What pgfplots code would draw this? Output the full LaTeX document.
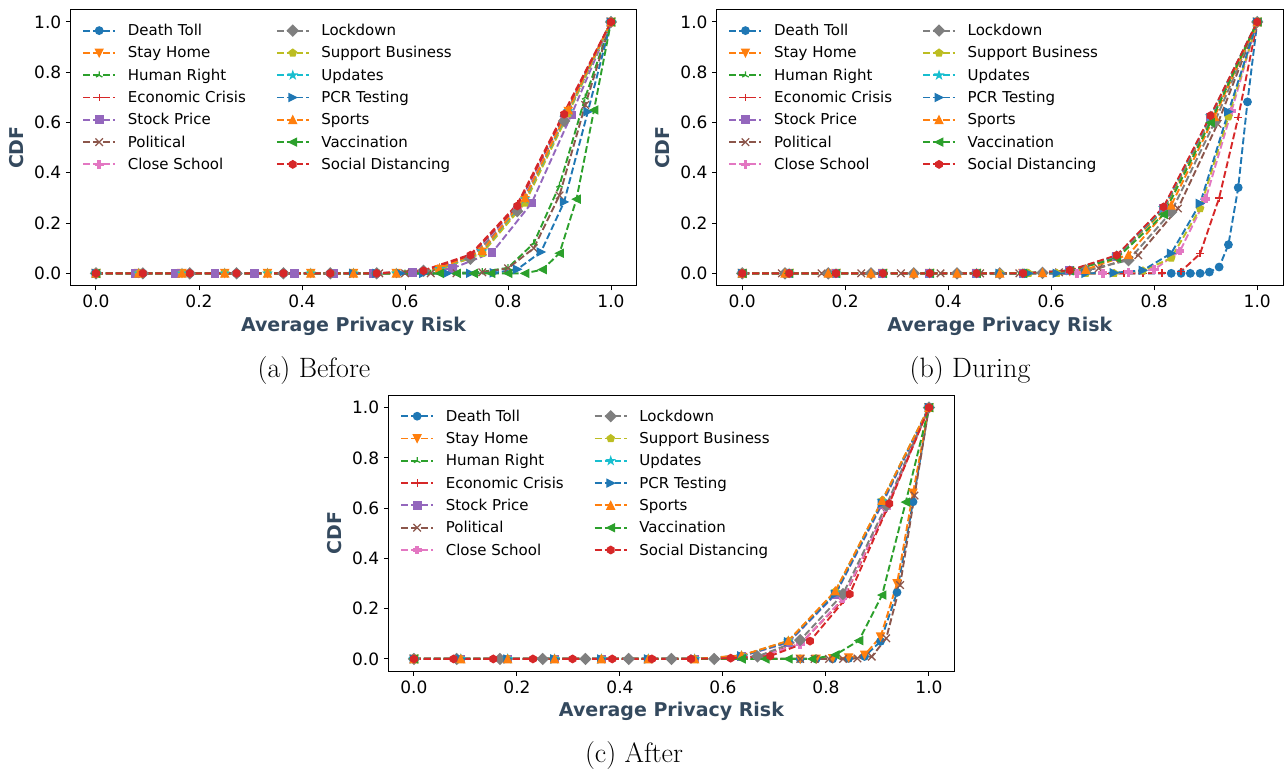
\documentclass[border=0pt]{standalone}
\usepackage{fontspec}
\setsansfont{DejaVu Sans}
\usepackage{pgfplots}
\pgfplotsset{compat=1.18}
\usetikzlibrary{plotmarks}

\definecolor{c0}{HTML}{1F77B4}
\definecolor{c1}{HTML}{FF7F0E}
\definecolor{c2}{HTML}{2CA02C}
\definecolor{c3}{HTML}{D62728}
\definecolor{c4}{HTML}{9467BD}
\definecolor{c5}{HTML}{8C564B}
\definecolor{c6}{HTML}{E377C2}
\definecolor{c7}{HTML}{7F7F7F}
\definecolor{c8}{HTML}{BCBD22}
\definecolor{c9}{HTML}{17BECF}
\definecolor{labcol}{HTML}{34495E}

% matplotlib-like markers
\pgfdeclareplotmark{mtri}{%
  \pgfpathmoveto{\pgfqpoint{0pt}{\pgfplotmarksize}}%
  \pgfpathlineto{\pgfqpoint{-\pgfplotmarksize}{-\pgfplotmarksize}}%
  \pgfpathlineto{\pgfqpoint{\pgfplotmarksize}{-\pgfplotmarksize}}%
  \pgfpathclose\pgfusepathqfillstroke}
\pgfdeclareplotmark{tritwo}{%
  \pgfpathmoveto{\pgfqpoint{0pt}{0pt}}\pgfpathlineto{\pgfqpoint{0pt}{\pgfplotmarksize}}%
  \pgfpathmoveto{\pgfqpoint{0pt}{0pt}}\pgfpathlineto{\pgfqpoint{-0.866\pgfplotmarksize}{-0.5\pgfplotmarksize}}%
  \pgfpathmoveto{\pgfqpoint{0pt}{0pt}}\pgfpathlineto{\pgfqpoint{0.866\pgfplotmarksize}{-0.5\pgfplotmarksize}}%
  \pgfusepathqstroke}
\pgfdeclareplotmark{Pfill}{%
  \pgfpathmoveto{\pgfqpoint{-0.333\pgfplotmarksize}{-\pgfplotmarksize}}%
  \pgfpathlineto{\pgfqpoint{0.333\pgfplotmarksize}{-\pgfplotmarksize}}%
  \pgfpathlineto{\pgfqpoint{0.333\pgfplotmarksize}{-0.333\pgfplotmarksize}}%
  \pgfpathlineto{\pgfqpoint{\pgfplotmarksize}{-0.333\pgfplotmarksize}}%
  \pgfpathlineto{\pgfqpoint{\pgfplotmarksize}{0.333\pgfplotmarksize}}%
  \pgfpathlineto{\pgfqpoint{0.333\pgfplotmarksize}{0.333\pgfplotmarksize}}%
  \pgfpathlineto{\pgfqpoint{0.333\pgfplotmarksize}{\pgfplotmarksize}}%
  \pgfpathlineto{\pgfqpoint{-0.333\pgfplotmarksize}{\pgfplotmarksize}}%
  \pgfpathlineto{\pgfqpoint{-0.333\pgfplotmarksize}{0.333\pgfplotmarksize}}%
  \pgfpathlineto{\pgfqpoint{-\pgfplotmarksize}{0.333\pgfplotmarksize}}%
  \pgfpathlineto{\pgfqpoint{-\pgfplotmarksize}{-0.333\pgfplotmarksize}}%
  \pgfpathlineto{\pgfqpoint{-0.333\pgfplotmarksize}{-0.333\pgfplotmarksize}}%
  \pgfpathclose\pgfusepathqfillstroke}
\pgfdeclareplotmark{Dmd}{%
  \pgfpathmoveto{\pgfqpoint{0pt}{1.414\pgfplotmarksize}}%
  \pgfpathlineto{\pgfqpoint{1.414\pgfplotmarksize}{0pt}}%
  \pgfpathlineto{\pgfqpoint{0pt}{-1.414\pgfplotmarksize}}%
  \pgfpathlineto{\pgfqpoint{-1.414\pgfplotmarksize}{0pt}}%
  \pgfpathclose\pgfusepathqfillstroke}
\pgfdeclareplotmark{fstar}{%
  \pgfpathmoveto{\pgfpointpolar{90}{\pgfplotmarksize}}%
  \pgfpathlineto{\pgfpointpolar{126}{0.382\pgfplotmarksize}}%
  \pgfpathlineto{\pgfpointpolar{162}{\pgfplotmarksize}}%
  \pgfpathlineto{\pgfpointpolar{198}{0.382\pgfplotmarksize}}%
  \pgfpathlineto{\pgfpointpolar{234}{\pgfplotmarksize}}%
  \pgfpathlineto{\pgfpointpolar{270}{0.382\pgfplotmarksize}}%
  \pgfpathlineto{\pgfpointpolar{306}{\pgfplotmarksize}}%
  \pgfpathlineto{\pgfpointpolar{342}{0.382\pgfplotmarksize}}%
  \pgfpathlineto{\pgfpointpolar{18}{\pgfplotmarksize}}%
  \pgfpathlineto{\pgfpointpolar{54}{0.382\pgfplotmarksize}}%
  \pgfpathclose\pgfusepathqfillstroke}
\pgfdeclareplotmark{hexa}{%
  \pgfpathmoveto{\pgfpointpolar{90}{\pgfplotmarksize}}%
  \pgfpathlineto{\pgfpointpolar{150}{\pgfplotmarksize}}%
  \pgfpathlineto{\pgfpointpolar{210}{\pgfplotmarksize}}%
  \pgfpathlineto{\pgfpointpolar{270}{\pgfplotmarksize}}%
  \pgfpathlineto{\pgfpointpolar{330}{\pgfplotmarksize}}%
  \pgfpathlineto{\pgfpointpolar{30}{\pgfplotmarksize}}%
  \pgfpathclose\pgfusepathqfillstroke}

\tikzset{mo/.style={solid, line width=1.25pt}}

\pgfplotscreateplotcyclelist{mpl}{%
c0,mark=*,mark options={mo}\\%
c1,mark=mtri,mark options={mo,rotate=180}\\%
c2,mark=tritwo,mark options={mo}\\%
c3,mark=+,mark options={mo}\\%
c4,mark=square*,mark options={mo}\\%
c5,mark=x,mark options={mo,scale=1.414}\\%
c6,mark=Pfill,mark options={mo}\\%
c7,mark=Dmd,mark options={mo}\\%
c8,mark=pentagon*,mark options={mo}\\%
c9,mark=fstar,mark options={mo}\\%
c0,mark=mtri,mark options={mo,rotate=-90}\\%
c1,mark=mtri,mark options={mo}\\%
c2,mark=mtri,mark options={mo,rotate=90}\\%
c3,mark=hexa,mark options={mo}\\%
}

\pgfplotsset{
  cdf/.style={
    scale only axis, width=566.5pt, height=276.5pt,
    xmin=-0.05, xmax=1.05, ymin=-0.05, ymax=1.05,
    xtick={0,0.2,0.4,0.6,0.8,1}, ytick={0,0.2,0.4,0.6,0.8,1},
    tick align=outside, tick pos=left, major tick length=4.4pt,
    tick style={line width=1pt, black},
    axis line style={line width=1pt},
    ticklabel style={font=\sffamily\fontsize{17}{20}\selectfont, inner sep=4.4pt},
    /pgf/number format/fixed, /pgf/number format/fixed zerofill,
    /pgf/number format/precision=1, /pgf/number format/assume math mode=true,
    xlabel={Average Privacy Risk}, ylabel={CDF},
    every axis x label/.style={at={(axis description cs:0.5,0)}, anchor=center, yshift=-40pt,
      font=\sffamily\bfseries\fontsize{19}{23}\selectfont, text=labcol},
    every axis y label/.style={at={(axis description cs:0,0.5)}, xshift=-54pt, anchor=center, rotate=90,
      font=\sffamily\bfseries\fontsize{19}{23}\selectfont, text=labcol},
    cycle list name=mpl,
    every axis plot post/.append style={line width=1.9pt, dash pattern=on 6.9pt off 3pt, mark size=3.75pt},
    legend columns=7, transpose legend, legend cell align=left,
    legend image code/.code={\draw[mark repeat=2,mark phase=2] plot coordinates {(0pt,0pt)(16pt,0pt)(32pt,0pt)};},
    legend style={draw=none, fill=none, inner sep=0pt, outer sep=0pt,
      at={(0,1)}, anchor=north west, xshift=12pt, yshift=-14.7pt,
      font=\sffamily\fontsize{15}{18}\selectfont, row sep=9.3pt,
      nodes={inner sep=0pt, text height=11.5pt, text depth=1.5pt},
      /tikz/every odd column/.append style={column sep=11.7pt},
      /tikz/every even column/.append style={column sep=30pt}},
    legend entries={Death Toll,Stay Home,Human Right,Economic Crisis,Stock Price,Political,Close School,
      Lockdown,Support Business,Updates,PCR Testing,Sports,Vaccination,Social Distancing},
  }
}

\begin{document}
\begin{tikzpicture}
\path[use as bounding box] (0pt,0pt) rectangle (1287pt,-770pt);

% (a) Before
\begin{axis}[cdf, at={(70.25pt,-285.9pt)}, anchor=south west]
\addplot coordinates {(0,0)(.091,0)(.182,0)(.273,0)(.364,0)(.455,0)(.545,0)(.636,.008)(.727,.066)(.818,.262)(.909,.625)(1,1)};
\addplot coordinates {(0,0)(.083,0)(.167,0)(.25,0)(.333,0)(.417,0)(.5,0)(.583,0)(.667,.015)(.75,.085)(.833,.29)(.917,.645)(1,1)};
\addplot coordinates {(0,0)(.55,0)(.6,0)(.65,0)(.7,.002)(.75,.006)(.8,.022)(.85,.12)(.9,.35)(.95,.70)(1,1)};
\addplot coordinates {(0,0)(.091,0)(.182,0)(.273,0)(.364,0)(.455,0)(.545,0)(.636,.012)(.727,.075)(.818,.275)(.909,.64)(1,1)};
\addplot coordinates {(0,0)(.077,0)(.154,0)(.231,0)(.308,0)(.385,0)(.462,0)(.538,0)(.615,.003)(.692,.02)(.769,.082)(.846,.28)(.923,.63)(1,1)};
\addplot coordinates {(0,0)(.55,0)(.6,0)(.65,0)(.7,0)(.75,.004)(.8,.02)(.85,.10)(.9,.31)(.95,.67)(1,1)};
\addplot coordinates {(0,0)(.091,0)(.182,0)(.273,0)(.364,0)(.455,0)(.545,0)(.636,.008)(.727,.06)(.818,.255)(.909,.615)(1,1)};
\addplot coordinates {(0,0)(.091,0)(.182,0)(.273,0)(.364,0)(.455,0)(.545,0)(.636,.01)(.727,.058)(.818,.247)(.909,.606)(1,1)};
\addplot coordinates {(0,0)(.083,0)(.167,0)(.25,0)(.333,0)(.417,0)(.5,0)(.583,0)(.667,.015)(.75,.08)(.833,.28)(.917,.635)(1,1)};
\addplot coordinates {(0,0)(.083,0)(.167,0)(.25,0)(.333,0)(.417,0)(.5,0)(.583,0)(.667,.018)(.75,.088)(.833,.295)(.917,.645)(1,1)};
\addplot coordinates {(0,0)(.5,0)(.545,0)(.591,0)(.636,0)(.682,0)(.727,0)(.773,.002)(.818,.016)(.864,.085)(.909,.284)(.955,.643)(1,1)};
\addplot coordinates {(0,0)(.083,0)(.167,0)(.25,0)(.333,0)(.417,0)(.5,0)(.583,0)(.667,.02)(.75,.09)(.833,.30)(.917,.65)(1,1)};
\addplot coordinates {(0,0)(.667,0)(.7,0)(.733,0)(.767,0)(.8,0)(.833,0)(.867,.015)(.9,.08)(.933,.295)(.967,.65)(1,1)};
\addplot coordinates {(0,0)(.091,0)(.182,0)(.273,0)(.364,0)(.455,0)(.545,0)(.636,.01)(.727,.072)(.818,.268)(.909,.633)(1,1)};
\end{axis}

% (b) During
\begin{axis}[cdf, at={(716.5pt,-285.9pt)}, anchor=south west]
\addplot coordinates {(0,0)(.833,0)(.852,0)(.870,0)(.889,0)(.907,.005)(.926,.025)(.944,.114)(.963,.341)(.981,.682)(1,1)};
\addplot coordinates {(0,0)(.091,0)(.182,0)(.273,0)(.364,0)(.455,0)(.545,0)(.636,.008)(.727,.065)(.818,.25)(.909,.61)(1,1)};
\addplot coordinates {(0,0)(.091,0)(.182,0)(.273,0)(.364,0)(.455,0)(.545,0)(.636,.01)(.727,.07)(.818,.255)(.909,.62)(1,1)};
\addplot coordinates {(0,0)(.667,0)(.704,0)(.741,0)(.778,0)(.815,.001)(.852,.008)(.889,.078)(.926,.30)(.963,.62)(1,1)};
\addplot coordinates {(0,0)(.091,0)(.182,0)(.273,0)(.364,0)(.455,0)(.545,0)(.636,.01)(.727,.068)(.818,.26)(.909,.62)(1,1)};
\addplot coordinates {(0,0)(.077,0)(.154,0)(.231,0)(.308,0)(.385,0)(.462,0)(.538,0)(.615,.004)(.692,.02)(.769,.072)(.846,.258)(.923,.595)(1,1)};
\addplot coordinates {(0,0)(.65,0)(.7,0)(.75,.004)(.8,.015)(.85,.089)(.9,.297)(.95,.645)(1,1)};
\addplot coordinates {(0,0)(.083,0)(.167,0)(.25,0)(.333,0)(.417,0)(.5,0)(.583,.002)(.667,.012)(.75,.052)(.833,.244)(.917,.60)(1,1)};
\addplot coordinates {(0,0)(.5,0)(.556,0)(.611,0)(.667,0)(.722,0)(.778,.01)(.833,.061)(.889,.258)(.944,.623)(1,1)};
\addplot coordinates {(0,0)(.091,0)(.182,0)(.273,0)(.364,0)(.455,0)(.545,0)(.636,.01)(.727,.07)(.818,.26)(.909,.625)(1,1)};
\addplot coordinates {(0,0)(.5,0)(.556,0)(.611,0)(.667,0)(.722,.002)(.778,.012)(.833,.08)(.889,.278)(.944,.643)(1,1)};
\addplot coordinates {(0,0)(.083,0)(.167,0)(.25,0)(.333,0)(.417,0)(.5,0)(.583,.002)(.667,.015)(.75,.074)(.833,.271)(.917,.623)(1,1)};
\addplot coordinates {(0,0)(.091,0)(.182,0)(.273,0)(.364,0)(.455,0)(.545,0)(.636,.01)(.727,.06)(.818,.234)(.909,.60)(1,1)};
\addplot coordinates {(0,0)(.091,0)(.182,0)(.273,0)(.364,0)(.455,0)(.545,0)(.636,.012)(.727,.072)(.818,.264)(.909,.627)(1,1)};
\end{axis}

% (c) After
\begin{axis}[cdf, at={(388.2pt,-671.5pt)}, anchor=south west]
\addplot coordinates {(0,0)(.75,0)(.781,0)(.813,0)(.844,.002)(.875,.01)(.906,.07)(.938,.265)(.969,.625)(1,1)};
\addplot coordinates {(0,0)(.75,0)(.781,0)(.813,.002)(.844,.005)(.875,.016)(.906,.088)(.938,.30)(.969,.66)(1,1)};
\addplot coordinates {(0,0)(.091,0)(.182,0)(.273,0)(.364,0)(.455,0)(.545,0)(.636,.012)(.727,.069)(.818,.261)(.909,.624)(1,1)};
\addplot coordinates {(0,0)(.083,0)(.167,0)(.25,0)(.333,0)(.417,0)(.5,0)(.583,.002)(.667,.01)(.75,.06)(.833,.235)(.917,.595)(1,1)};
\addplot coordinates {(0,0)(.091,0)(.182,0)(.273,0)(.364,0)(.455,0)(.545,0)(.636,.01)(.727,.065)(.818,.255)(.909,.615)(1,1)};
\addplot coordinates {(0,0)(.75,0)(.778,0)(.806,0)(.833,0)(.861,.002)(.889,.009)(.917,.082)(.944,.294)(.972,.65)(1,1)};
\addplot coordinates {(0,0)(.083,0)(.167,0)(.25,0)(.333,0)(.417,0)(.5,0)(.583,0)(.667,.008)(.75,.058)(.833,.24)(.917,.60)(1,1)};
\addplot coordinates {(0,0)(.083,0)(.167,0)(.25,0)(.333,0)(.417,0)(.5,0)(.583,0)(.667,.01)(.75,.075)(.833,.258)(.917,.61)(1,1)};
\addplot coordinates {(0,0)(.091,0)(.182,0)(.273,0)(.364,0)(.455,0)(.545,0)(.636,.013)(.727,.072)(.818,.268)(.909,.63)(1,1)};
\addplot coordinates {(0,0)(.091,0)(.182,0)(.273,0)(.364,0)(.455,0)(.545,0)(.636,.012)(.727,.07)(.818,.265)(.909,.628)(1,1)};
\addplot coordinates {(0,0)(.091,0)(.182,0)(.273,0)(.364,0)(.455,0)(.545,0)(.636,.012)(.727,.068)(.818,.258)(.909,.62)(1,1)};
\addplot coordinates {(0,0)(.091,0)(.182,0)(.273,0)(.364,0)(.455,0)(.545,0)(.636,.014)(.727,.072)(.818,.27)(.909,.63)(1,1)};
\addplot coordinates {(0,0)(.636,0)(.682,0)(.727,0)(.773,0)(.818,.016)(.864,.073)(.909,.254)(.955,.624)(1,1)};
\addplot coordinates {(0,0)(.077,0)(.154,0)(.231,0)(.308,0)(.385,0)(.462,0)(.538,0)(.615,.003)(.692,.012)(.769,.071)(.846,.258)(.923,.618)(1,1)};
\end{axis}

\node[font=\rmfamily\fontsize{28}{33}\selectfont, anchor=base] at (314pt,-377pt) {(a) Before};
\node[font=\rmfamily\fontsize{28}{33}\selectfont, anchor=base] at (970pt,-377pt) {(b) During};
\node[font=\rmfamily\fontsize{28}{33}\selectfont, anchor=base] at (634pt,-762pt) {(c) After};
\end{tikzpicture}
\end{document}
